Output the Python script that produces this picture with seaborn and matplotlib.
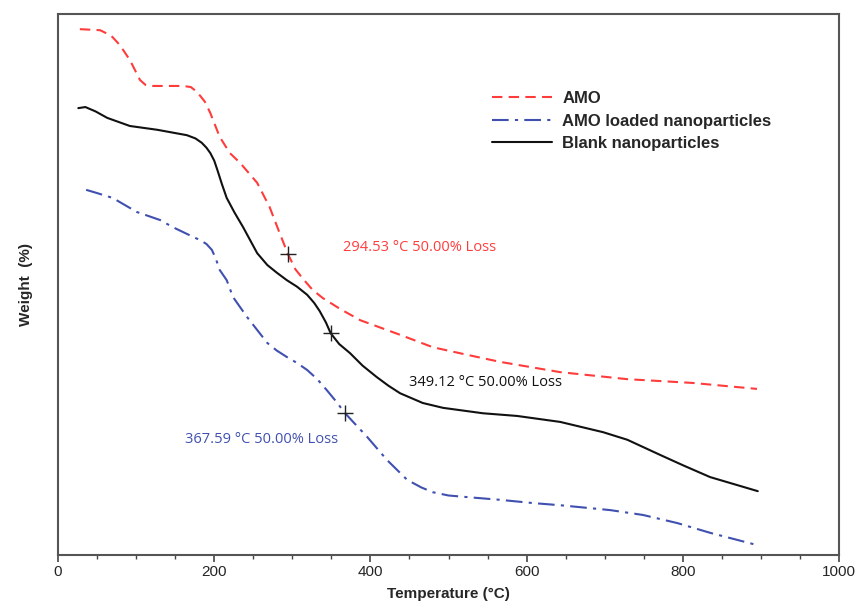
import numpy as np
import pandas as pd
import matplotlib
matplotlib.use("Agg")
import matplotlib.pyplot as plt
import seaborn as sns
from matplotlib.ticker import MultipleLocator

# ---- data (temperature in °C, weight in relative %) ----
amo_t = [28, 54, 68, 79, 92, 105, 112, 120, 160, 170, 178, 188, 195, 207, 220, 233, 255,
         271, 283, 294.5, 304, 314, 326, 339, 361, 387, 438, 480, 524, 566, 643, 729, 813, 895]
amo_w = [97.2, 97.0, 96.0, 94.3, 91.5, 87.8, 86.9, 86.7, 86.7, 86.5, 85.6, 83.8, 81.7, 77.3,
         74.3, 72.5, 68.8, 64.3, 59.8, 55.6, 52.8, 51.0, 49.0, 47.5, 45.5, 43.4, 40.7, 38.4,
         37.0, 35.7, 33.8, 32.5, 31.8, 30.7]

blank_t = [26, 35, 48, 63, 92, 127, 165, 176, 184, 190, 195, 200, 204, 210, 216, 226, 237,
           255, 268, 280, 293, 306, 319, 328, 335, 343, 349.1, 360, 374, 390, 408, 423, 438,
           467, 493, 544, 588, 643, 698, 729, 771, 800, 835, 896]
blank_w = [82.6, 82.8, 82.0, 80.8, 79.3, 78.6, 77.6, 77.0, 76.2, 75.3, 74.3, 72.9, 71.2, 68.5,
           66.0, 63.3, 60.6, 55.8, 53.6, 52.2, 50.8, 49.6, 48.1, 46.6, 45.1, 43.0, 41.0, 39.0,
           37.3, 35.0, 32.9, 31.3, 29.9, 28.1, 27.2, 26.2, 25.7, 24.6, 22.7, 21.3, 18.5, 16.6,
           14.4, 11.8]

loaded_t = [36, 50, 70, 101, 131, 147, 173, 182, 190, 197, 202, 207, 216, 224, 242, 268, 280,
            293, 306, 319, 332, 344, 356, 367.6, 396, 421, 447, 465, 480, 500, 524, 566, 608,
            643, 707, 749, 793, 835, 896]
loaded_w = [67.5, 66.9, 66.0, 63.4, 61.9, 60.6, 58.8, 58.2, 57.5, 56.4, 54.8, 52.7, 50.8, 47.7,
            44.0, 39.2, 37.8, 36.6, 35.5, 34.2, 32.5, 30.5, 28.4, 26.2, 21.8, 17.6, 13.9, 12.5,
            11.6, 11.0, 10.7, 10.2, 9.6, 9.2, 8.3, 7.4, 5.9, 4.1, 1.8]

mark_t = [294.53, 349.12, 367.59]
mark_w = [55.6, 41.0, 26.2]
mark_labels = ["294.53 °C 50.00% Loss", "349.12 °C 50.00% Loss", "367.59 °C 50.00% Loss"]

x_ticks = [0, 200, 400, 600, 800, 1000]

# ---- plotting ----
sns.set_style("ticks")
plt.rcParams["font.family"] = ["Liberation Sans", "DejaVu Sans"]

fig = plt.figure(figsize=(8.6, 6.03), dpi=100)
ax = fig.add_axes([58 / 860, 1 - 555 / 603, (839 - 58) / 860, (555 - 14) / 603])

red = "#ff3c3c"
blue = "#4050b0"
black = "#111111"

df_amo = pd.DataFrame({"T": amo_t, "W": amo_w})
df_loaded = pd.DataFrame({"T": loaded_t, "W": loaded_w})
df_blank = pd.DataFrame({"T": blank_t, "W": blank_w})

sns.lineplot(data=df_amo, x="T", y="W", ax=ax, color=red, lw=1.5, sort=False,
             label="AMO", dashes=False)
sns.lineplot(data=df_loaded, x="T", y="W", ax=ax, color=blue, lw=1.5, sort=False,
             label="AMO loaded nanoparticles", dashes=False)
sns.lineplot(data=df_blank, x="T", y="W", ax=ax, color=black, lw=1.5, sort=False,
             label="Blank nanoparticles", dashes=False)
ax.lines[0].set_linestyle((0, (5, 3)))
ax.lines[1].set_linestyle((0, (8, 3, 1.5, 3)))
for ln in ax.lines[:3]:
    ln.set_solid_joinstyle("round")
    ln.set_dash_joinstyle("round")

sns.scatterplot(x=mark_t, y=mark_w, ax=ax, marker="+", s=120, color="#222222",
                linewidth=1.0, zorder=5, legend=False)

ax.text(365, 56.9, mark_labels[0], color=red, fontsize=10.5, va="center", ha="left",
        family=["Open Sans", "DejaVu Sans"])
ax.text(449, 31.8, mark_labels[1], color=black, fontsize=10.5, va="center", ha="left",
        family=["Open Sans", "DejaVu Sans"])
ax.text(163, 21.3, mark_labels[2], color=blue, fontsize=10.5, va="center", ha="left",
        family=["Open Sans", "DejaVu Sans"])

ax.set_xlim(0, 1000)
ax.set_ylim(0, 100)
ax.set_xticks(x_ticks)
ax.set_xticklabels([str(t) for t in x_ticks], fontsize=11)
ax.xaxis.set_minor_locator(MultipleLocator(50))
ax.tick_params(axis="x", which="major", length=5, width=1.2, color="#444444",
               direction="out", pad=2)
ax.tick_params(axis="x", which="minor", length=3, width=1.0, color="#444444", direction="out")
ax.set_yticks([])
for s in ax.spines.values():
    s.set_visible(True)
    s.set_linewidth(1.5)
    s.set_color("#555555")

ax.set_xlabel("Temperature (°C)", fontsize=11, fontweight="bold", labelpad=6)
ax.set_ylabel("Weight  (%)", fontsize=11, fontweight="bold", labelpad=18)

leg = ax.legend(loc="upper left", bbox_to_anchor=(0.537, 0.885), frameon=False,
                fontsize=12, handlelength=3.6, handletextpad=0.6, labelspacing=0.45)
for t in leg.get_texts():
    t.set_fontweight("bold")

fig.savefig("out.png", dpi=100)
